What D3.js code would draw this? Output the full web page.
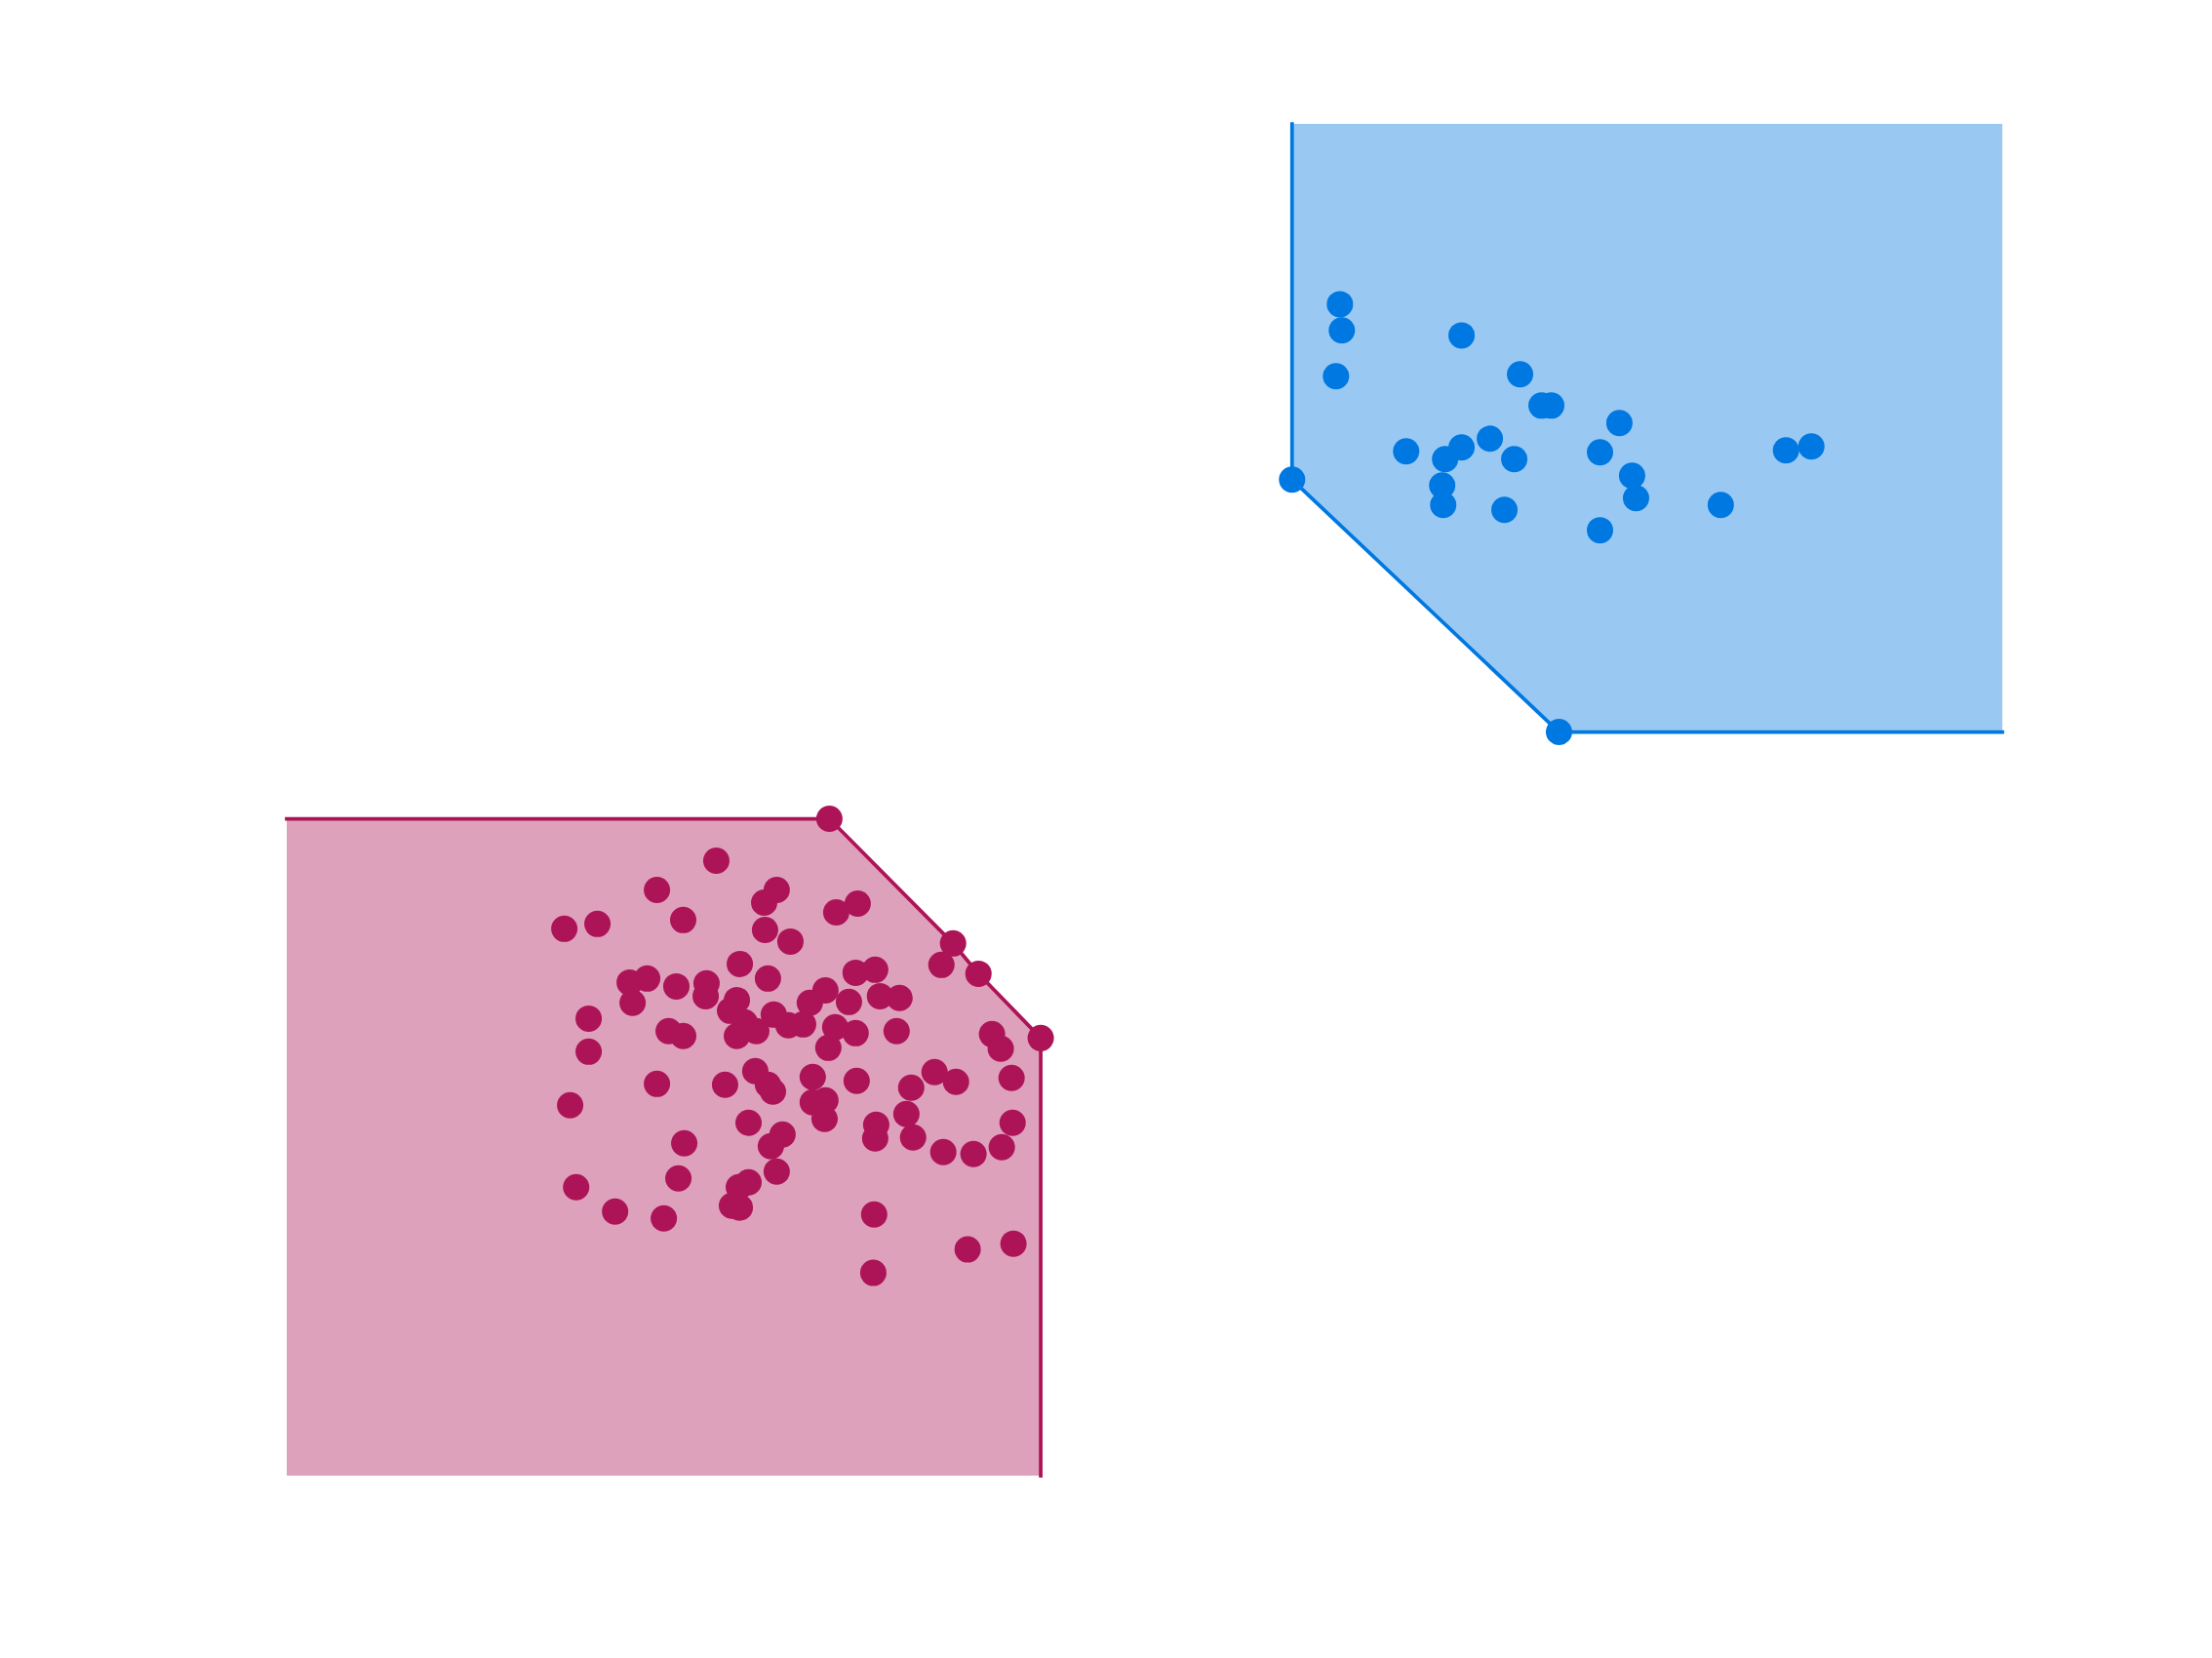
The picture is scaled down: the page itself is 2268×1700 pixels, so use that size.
<!DOCTYPE html>
<html>
<head>
<meta charset="utf-8">
<script src="https://cdn.jsdelivr.net/npm/d3@7"></script>
<style>
  html, body { margin: 0; padding: 0; background: #ffffff; }
  svg { display: block; }
</style>
</head>
<body>
<svg id="chart" width="2268" height="1700"></svg>
<script>
// ---- Data (axis units 0..100 on both axes) ----
const pinkX = [31.63,38.84,40.32,43.95,25.04,21.58,28.56,27.83,32.03,33.28,16.18,18.11,23.11,27.88,29.36,38.16,26.41,28.05,19.99,21.01,20.16,22.71,24.47,24.42,26.24,25.84,26.69,26.24,27.37,28.39,29.24,30.10,30.49,31.40,33.16,34.30,32.77,34.58,35.72,31.97,33.16,35.55,31.57,41.11,41.62,17.60,17.60,22.26,23.11,27.31,37.76,21.58,25.55,28.05,28.34,30.66,30.66,31.40,31.35,16.52,26.92,28.90,28.22,23.17,28.56,22.83,26.92,26.35,25.95,26.41,16.87,19.14,21.98,33.22,36.40,39.01,42.25,36.12,36.51,34.36,34.30,38.27,40.03,41.68,42.31,34.24,39.69,42.36,34.19];
const pinkY = [48.59,39.37,37.13,32.37,45.49,43.33,43.33,42.39,41.67,42.32,40.45,40.81,41.10,40.37,39.51,37.78,37.85,36.77,36.48,36.77,34.97,36.19,36.41,35.47,35.18,34.39,33.53,32.52,32.88,34.10,33.31,33.38,34.97,35.90,37.20,37.42,35.04,35.47,35.33,33.17,32.73,32.88,31.65,32.66,31.58,33.81,31.36,32.88,32.52,29.92,29.85,28.98,28.91,28.91,28.41,29.49,27.61,27.76,26.39,27.40,26.10,25.23,24.37,24.59,22.49,21.99,21.70,21.34,19.97,19.83,21.34,19.54,19.03,29.20,28.70,29.13,29.42,26.75,25.02,25.96,24.95,23.94,23.79,24.30,26.10,19.32,16.73,17.16,15.00];
// indices of the pink Pareto front (maximisation)
const pinkFront = [0, 1, 2, 3];

const blueX = [58.60,74.16,61.39,61.50,61.16,68.48,71.89,73.14,73.71,77.68,76.55,65.25,67.52,68.48,70.13,71.55,67.35,67.41,70.98,78.42,78.65,76.55,83.59,87.39,88.87];
const blueY = [73.68,55.01,86.66,84.72,81.33,84.35,81.47,79.16,79.16,77.87,75.70,75.77,75.20,76.06,76.71,75.20,73.25,71.81,71.45,73.97,72.31,69.94,71.81,75.85,76.14];
// indices of the blue Pareto front (minimisation)
const blueFront = [0, 1];

const xDomain = [0, 100];
const yDomain = [0, 100];

const pinkColor = "#AD1457";
const blueColor = "#0078E1";

// ---- Layout ----
const svg = d3.select("#chart");
const x = d3.scaleLinear().domain(xDomain).range([294, 2053]);
const y = d3.scaleLinear().domain(yDomain).range([1513, 127]);

const pinkPts = pinkX.map((v, i) => [v, pinkY[i]]);
const bluePts = blueX.map((v, i) => [v, blueY[i]]);

// Pink (maximisation): front from left edge, down to bottom
const pf = pinkFront.map(i => pinkPts[i]).sort((a, b) => a[0] - b[0]);
const pinkLine = [[xDomain[0], pf[0][1]], ...pf, [pf[pf.length - 1][0], yDomain[0]]];
const pinkPoly = [...pinkLine, [xDomain[0], yDomain[0]]];

// Blue (minimisation): front from top edge, to right edge
const bf = blueFront.map(i => bluePts[i]).sort((a, b) => a[0] - b[0]);
const blueLine = [[bf[0][0], yDomain[1]], ...bf, [xDomain[1], bf[bf.length - 1][1]]];
const bluePoly = [...blueLine, [xDomain[1], yDomain[1]]];

const line = d3.line().x(d => x(d[0])).y(d => y(d[1]));

// fills
svg.append("path").attr("d", line(pinkPoly) + "Z")
  .attr("fill", pinkColor).attr("fill-opacity", 0.4).attr("stroke", "none");
svg.append("path").attr("d", line(bluePoly) + "Z")
  .attr("fill", blueColor).attr("fill-opacity", 0.4).attr("stroke", "none");

// front lines
svg.append("path").attr("d", line(pinkLine))
  .attr("fill", "none").attr("stroke", pinkColor).attr("stroke-width", 3.75)
  .attr("stroke-linecap", "square");
svg.append("path").attr("d", line(blueLine))
  .attr("fill", "none").attr("stroke", blueColor).attr("stroke-width", 3.75)
  .attr("stroke-linecap", "square");

// points
svg.append("g").selectAll("circle").data(pinkPts).join("circle")
  .attr("cx", d => x(d[0])).attr("cy", d => y(d[1])).attr("r", 13.5)
  .attr("fill", pinkColor);
svg.append("g").selectAll("circle").data(bluePts).join("circle")
  .attr("cx", d => x(d[0])).attr("cy", d => y(d[1])).attr("r", 13.5)
  .attr("fill", blueColor);
</script>
</body>
</html>
